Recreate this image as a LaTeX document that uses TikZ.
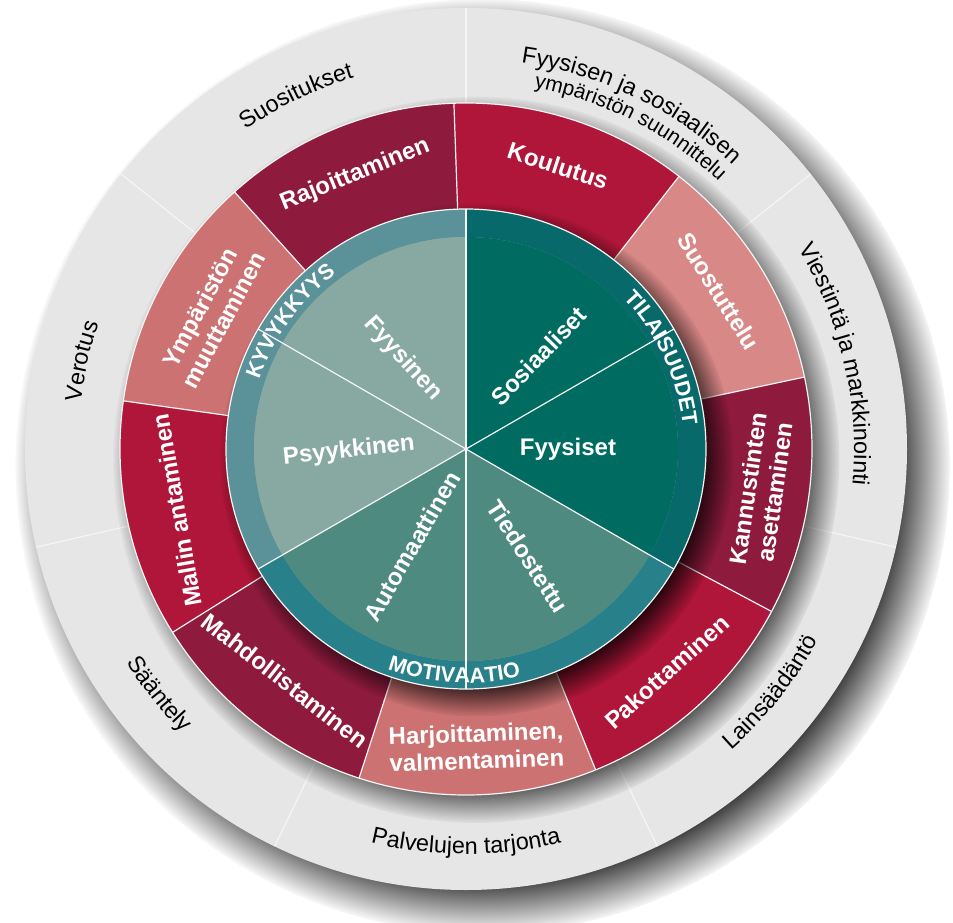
\documentclass[tikz,border=0pt]{standalone}
\usepackage{fontspec}
\setmainfont{Liberation Sans}
\usetikzlibrary{shadows,decorations.text}

\definecolor{ringgrey}{HTML}{E6E6E6}
\definecolor{crimson}{HTML}{B01639}
\definecolor{maroon}{HTML}{8E1B3E}
\definecolor{salmon}{HTML}{CD7272}
\definecolor{pinky}{HTML}{D88886}
\definecolor{capdisc}{HTML}{87A9A1}
\definecolor{capring}{HTML}{5B929A}
\definecolor{oppdisc}{HTML}{006B61}
\definecolor{oppring}{HTML}{08696B}
\definecolor{motdisc}{HTML}{4F8A81}
\definecolor{motring}{HTML}{28808A}

\newcommand{\outerfont}{\fontsize{11.7}{14}\selectfont}
\newcommand{\smallouter}{\fontsize{10.5}{12}\selectfont}
\newcommand{\ringfont}{\color{white}\fontsize{10.8}{12}\selectfont\bfseries}

% annular sector: colour, start, end, inner, outer
\newcommand{\wedgeseg}[5]{%
  \fill[#1] (#2:#4) arc[start angle=#2, end angle=#3, radius=#4]
    -- (#3:#5) arc[start angle=#3, end angle=#2, radius=#5] -- cycle;}
% text on an arc, clockwise (tops outward): angle, radius, font, text
\newcommand{\cwlabel}[4]{%
  \path[decorate, decoration={text along path, text align=center, text={|#3|#4}}]
    ({#1+45}:#2) arc[start angle={#1+45}, end angle={#1-45}, radius=#2];}
% text on an arc, counter-clockwise (tops inward)
\newcommand{\ccwlabel}[4]{%
  \path[decorate, decoration={text along path, text align=center, text={|#3|#4}}]
    ({#1-45}:#2) arc[start angle={#1-45}, end angle={#1+45}, radius=#2];}

\tikzset{
  lbl/.style={text=white, font=\fontsize{12}{13.5}\selectfont\bfseries, align=center, inner sep=0pt},
  sep/.style={white!92!gray, line width=0.6pt},
}

\begin{document}
\begin{tikzpicture}[x=0.5pt, y=0.5pt]
	\useasboundingbox (-466,-473) rectangle (487,449);

	% outer ring
	\fill[ringgrey, circular drop shadow={shadow xshift=8pt, shadow yshift=-8pt, shadow scale=1.06, fill=black, opacity=1}] (0,0) circle[radius=441];
	\draw[sep] (90:346) -- (90:441);
	\draw[sep] (38.57:346) -- (38.57:441);
	\draw[sep] (-12.86:346) -- (-12.86:441);
	\draw[sep] (-64.29:346) -- (-64.29:441);
	\draw[sep] (-115.71:346) -- (-115.71:441);
	\draw[sep] (-167.14:346) -- (-167.14:441);
	\draw[sep] (141.43:346) -- (141.43:441);

	% intervention ring
	\fill[crimson, circular drop shadow={shadow xshift=5pt, shadow yshift=-5pt, shadow scale=1.05, fill=black, opacity=1}] (0,0) circle[radius=346];
	\wedgeseg{crimson}{52}{92}{240}{346}
	\wedgeseg{pinky}{12}{52}{240}{346}
	\wedgeseg{maroon}{-28}{12}{240}{346}
	\wedgeseg{crimson}{-68}{-28}{240}{346}
	\wedgeseg{salmon}{-108}{-68}{240}{346}
	\wedgeseg{maroon}{-148}{-108}{240}{346}
	\wedgeseg{crimson}{172}{212}{240}{346}
	\wedgeseg{salmon}{132}{172}{240}{346}
	\wedgeseg{maroon}{92}{132}{240}{346}
	\draw[sep] (92:240) -- (92:346);
	\draw[sep] (52:240) -- (52:346);
	\draw[sep] (12:240) -- (12:346);
	\draw[sep] (-28:240) -- (-28:346);
	\draw[sep] (-68:240) -- (-68:346);
	\draw[sep] (-108:240) -- (-108:346);
	\draw[sep] (-148:240) -- (-148:346);
	\draw[sep] (172:240) -- (172:346);
	\draw[sep] (132:240) -- (132:346);
	\draw[sep] (0,0) circle[radius=346];

	% COM-B circle
	\fill[capdisc, circular drop shadow={shadow xshift=5pt, shadow yshift=-5pt, shadow scale=1.07, fill=black, opacity=.9}] (0,0) circle[radius=240];
	\wedgeseg{capring}{90}{210}{212}{240}
	\wedgeseg{oppring}{-30}{90}{212}{240}
	\wedgeseg{motring}{210}{330}{212}{240}
	\fill[capdisc] (0,0) -- (90:212) arc[start angle=90, end angle=210, radius=212] -- cycle;
	\fill[oppdisc] (0,0) -- (-30:212) arc[start angle=-30, end angle=90, radius=212] -- cycle;
	\fill[motdisc] (0,0) -- (210:212) arc[start angle=210, end angle=330, radius=212] -- cycle;
	\draw[sep] (0,0) -- (30:240);
	\draw[sep] (0,0) -- (90:240);
	\draw[sep] (0,0) -- (150:240);
	\draw[sep] (0,0) -- (210:240);
	\draw[sep] (0,0) -- (270:240);
	\draw[sep] (0,0) -- (330:240);
	\draw[sep] (0,0) circle[radius=240];

	% sources of behaviour
	\node[lbl, rotate=-48] (fyysinen) at (125:110) {Fyysinen};
	\node[lbl, rotate=6] (psyykkinen) at (181:117) {Psyykkinen};
	\node[lbl, rotate=60] (automaattinen) at (241:111) {Automaattinen};
	\node[lbl, rotate=-57] (tiedostettu) at (-60:124) {Tiedostettu};
	\node[lbl] (fyysiset) at (0:102) {Fyysiset};
	\node[lbl, rotate=46] (sosiaaliset) at (52:118) {Sosiaaliset};
	\cwlabel{144}{218}{\ringfont}{KYVYKKYYS}
	\cwlabel{25}{218}{\ringfont}{TILAISUUDET}
	\ccwlabel{-93}{234}{\ringfont}{MOTIVAATIO}

	% interventions
	\node[lbl, rotate=-18] (koulutus) at (72:298) {Koulutus};
	\node[lbl, rotate=-58] (suostuttelu) at (32:298) {Suostuttelu};
	\node[lbl, rotate=82] (kannustinten) at (-8:298) {Kannustinten\\asettaminen};
	\node[lbl, rotate=42] (pakottaminen) at (-48:300) {Pakottaminen};
	\node[lbl, rotate=2] (harjoittaminen) at (-88:298) {Harjoittaminen,\\valmentaminen};
	\node[lbl, rotate=-38] (mahdollistaminen) at (-128:294) {Mahdollistaminen};
	\node[lbl, rotate=100] (mallin) at (192:296) {Mallin antaminen};
	\node[lbl, rotate=62] (ymparisto) at (152:288) {Ympäristön\\muuttaminen};
	\node[lbl, rotate=22] (rajoittaminen) at (112:296) {Rajoittaminen};

	% policies
	\cwlabel{115.7}{388}{\outerfont}{Suositukset}
	\cwlabel{64.3}{390}{\outerfont}{Fyysisen ja sosiaalisen}
	\cwlabel{63}{368}{\smallouter}{ympäristön suunnittelu}
	\cwlabel{12.9}{388}{\outerfont}{Viestintä ja markkinointi}
	\ccwlabel{-38.6}{401}{\outerfont}{Lainsäädäntö}
	\ccwlabel{-90}{405}{\outerfont}{Palvelujen tarjonta}
	\ccwlabel{218.6}{401}{\outerfont}{Sääntely}
	\cwlabel{167.1}{388}{\outerfont}{Verotus}
\end{tikzpicture}
\end{document}
